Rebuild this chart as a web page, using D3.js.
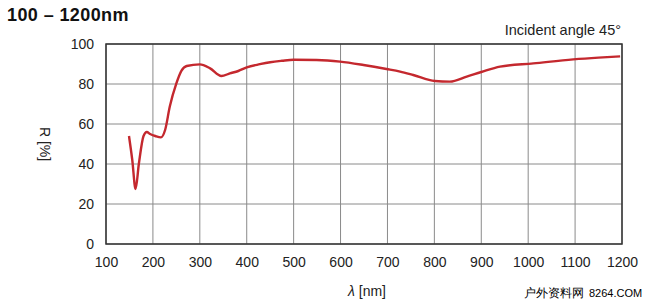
<!DOCTYPE html>
<html>
<head>
<meta charset="utf-8">
<script src="https://cdn.jsdelivr.net/npm/d3@7"></script>
<style>
  body { margin: 0; background: #fff; }
  text { font-family: "Liberation Sans", Arial, sans-serif; }
</style>
</head>
<body>
<svg id="chart" width="650" height="305"></svg>
<script>
// reflectance curve
const wavelength = [149, 156, 163, 170, 180, 187, 194, 205, 217, 226, 236, 250, 261, 272, 300, 322, 346, 364, 382, 400, 428, 450, 475, 500, 549, 599, 649, 698, 727, 755, 801, 833, 869, 900, 940, 1011, 1096, 1150, 1196];
const reflectance = [54, 42, 27.5, 40, 54, 56, 55, 54, 53.3, 57, 68.7, 80.3, 86.7, 89, 89.8, 87.8, 84, 85.3, 86.5, 88.3, 89.9, 90.9, 91.6, 92.1, 92, 91.2, 89.5, 87.5, 86.2, 84.5, 81.5, 81.2, 83.7, 86, 88.7, 90.3, 92.3, 93.2, 93.8];
const xTicks = [100, 200, 300, 400, 500, 600, 700, 800, 900, 1000, 1100, 1200];
const yTicks = [0, 20, 40, 60, 80, 100];

const dims = { left: 106, right: 622, top: 44, bottom: 244 };
const svg = d3.select("#chart");

const x = d3.scaleLinear().domain([100, 1200]).range([dims.left, dims.right]);
const y = d3.scaleLinear().domain([0, 100]).range([dims.bottom, dims.top]);

// grid
const grid = svg.append("g");
grid.selectAll("line.v")
  .data(xTicks)
  .enter()
  .append("line")
  .attr("x1", (d) => x(d)).attr("x2", (d) => x(d))
  .attr("y1", dims.top).attr("y2", dims.bottom)
  .attr("stroke", "#8a8a8a").attr("stroke-width", 1);
grid.selectAll("line.h")
  .data(yTicks)
  .enter()
  .append("line")
  .attr("x1", dims.left).attr("x2", dims.right)
  .attr("y1", (d) => y(d)).attr("y2", (d) => y(d))
  .attr("stroke", "#8a8a8a").attr("stroke-width", 1);

// axes (labels only, frame drawn separately)
const xAxis = svg.append("g")
  .attr("transform", `translate(0, ${dims.bottom})`)
  .call(d3.axisBottom(x).tickValues(xTicks).tickSize(0).tickPadding(13).tickFormat(d3.format("d")));
const yAxis = svg.append("g")
  .attr("transform", `translate(${dims.left}, 0)`)
  .call(d3.axisLeft(y).tickValues(yTicks).tickSize(0).tickPadding(12));
[xAxis, yAxis].forEach((a) => {
  a.select(".domain").remove();
  a.selectAll("text").attr("font-size", 14).attr("fill", "#222")
    .attr("font-family", "'Liberation Sans', Arial, sans-serif");
});

// frame
svg.append("rect")
  .attr("x", dims.left).attr("y", dims.top)
  .attr("width", dims.right - dims.left).attr("height", dims.bottom - dims.top)
  .attr("fill", "none").attr("stroke", "#333").attr("stroke-width", 1.5);

// curve
const line = d3.line()
  .x((d, i) => x(wavelength[i]))
  .y((d) => y(d))
  .curve(d3.curveMonotoneX);
svg.append("path")
  .datum(reflectance)
  .attr("d", line)
  .attr("fill", "none")
  .attr("stroke", "#c4282e")
  .attr("stroke-width", 2.4)
  .attr("stroke-linejoin", "round");

// texts
svg.append("text").attr("x", 7).attr("y", 21)
  .attr("font-size", 18).attr("font-weight", "bold").attr("fill", "#111")
  .attr("letter-spacing", 0.4)
  .text("100 – 1200nm");
svg.append("text").attr("x", 621).attr("y", 35).attr("text-anchor", "end")
  .attr("font-size", 14.5).attr("fill", "#222")
  .text("Incident angle 45°");
svg.append("text").attr("x", 367).attr("y", 296).attr("text-anchor", "middle")
  .attr("font-size", 14).attr("fill", "#222")
  .html("<tspan font-style='italic'>λ</tspan> [nm]");
svg.append("text")
  .attr("transform", "translate(40, 144) rotate(90)")
  .attr("text-anchor", "middle")
  .attr("font-size", 14).attr("fill", "#222")
  .text("R [%]");

// watermark
svg.append("text").attr("x", 524).attr("y", 297)
  .attr("font-size", 12).attr("fill", "#000")
  .attr("font-family", "'Noto Sans CJK SC', sans-serif")
  .text("户外资料网");
svg.append("text").attr("x", 589).attr("y", 297)
  .attr("font-size", 11).attr("fill", "#000")
  .attr("font-family", "'DejaVu Sans Mono', monospace")
  .text("8264.COM");
</script>
</body>
</html>
